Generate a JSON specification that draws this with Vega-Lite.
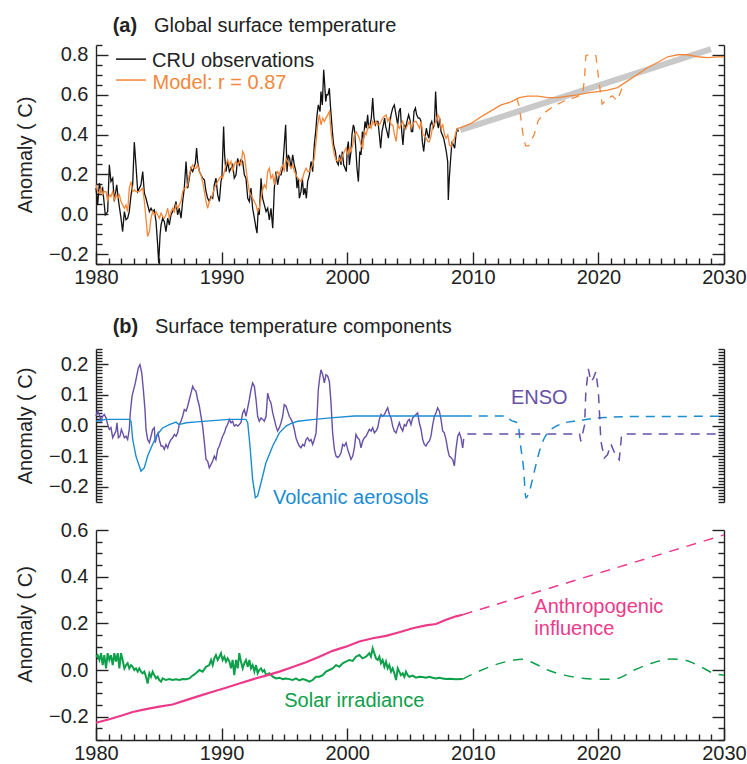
{
  "$schema": "https://vega.github.io/schema/vega-lite/v6.json",
  "autosize": {"type": "pad"},
  "padding": {"left": 15, "top": 16, "right": 2, "bottom": 2},
  "background": "white",
  "config": {
    "font": "Liberation Sans",
    "view": {"stroke": null},
    "axis": {"labelFontSize": 20, "labelColor": "#222", "titleFontSize": 20, "titleFontWeight": "normal", "titleColor": "#222", "domainColor": "#222", "tickColor": "#222", "domainWidth": 1.4, "tickWidth": 1.4, "grid": false}
  },
  "datasets": {
    "cru": [
      {"year":1980.00,"value":0.131},{"year":1980.13,"value":0.047},{"year":1980.27,"value":0.156},{"year":1980.40,"value":0.114},{"year":1980.53,"value":0.131},{"year":1980.74,"value":-0.003},{"year":1980.93,"value":0.013},{"year":1981.06,"value":0.248},{"year":1981.19,"value":0.164},{"year":1981.33,"value":0.181},{"year":1981.46,"value":0.064},{"year":1981.65,"value":0.148},{"year":1981.80,"value":0.064},{"year":1981.99,"value":-0.020},{"year":1982.12,"value":-0.087},{"year":1982.26,"value":0.013},{"year":1982.39,"value":-0.028},{"year":1982.52,"value":-0.020},{"year":1982.65,"value":0.013},{"year":1982.79,"value":0.097},{"year":1982.92,"value":0.148},{"year":1983.05,"value":0.362},{"year":1983.18,"value":0.248},{"year":1983.32,"value":0.114},{"year":1983.45,"value":0.131},{"year":1983.58,"value":0.148},{"year":1983.72,"value":0.214},{"year":1983.85,"value":0.106},{"year":1983.98,"value":0.080},{"year":1984.11,"value":0.047},{"year":1984.25,"value":0.013},{"year":1984.38,"value":0.030},{"year":1984.51,"value":0.013},{"year":1984.64,"value":0.022},{"year":1984.78,"value":-0.037},{"year":1984.91,"value":-0.154},{"year":1984.99,"value":-0.246},{"year":1985.10,"value":-0.104},{"year":1985.18,"value":-0.054},{"year":1985.31,"value":-0.020},{"year":1985.44,"value":-0.037},{"year":1985.57,"value":-0.087},{"year":1985.71,"value":-0.020},{"year":1985.84,"value":-0.054},{"year":1985.97,"value":-0.003},{"year":1986.10,"value":0.013},{"year":1986.24,"value":0.030},{"year":1986.37,"value":0.064},{"year":1986.50,"value":-0.003},{"year":1986.63,"value":0.030},{"year":1986.77,"value":-0.020},{"year":1986.90,"value":0.064},{"year":1987.03,"value":0.131},{"year":1987.17,"value":0.265},{"year":1987.30,"value":0.131},{"year":1987.43,"value":0.181},{"year":1987.56,"value":0.231},{"year":1987.70,"value":0.214},{"year":1987.91,"value":0.256},{"year":1988.01,"value":0.332},{"year":1988.09,"value":0.265},{"year":1988.23,"value":0.214},{"year":1988.36,"value":0.198},{"year":1988.49,"value":0.181},{"year":1988.63,"value":0.173},{"year":1988.76,"value":0.114},{"year":1988.89,"value":0.080},{"year":1989.02,"value":0.064},{"year":1989.16,"value":0.089},{"year":1989.29,"value":0.080},{"year":1989.42,"value":0.148},{"year":1989.55,"value":0.181},{"year":1989.69,"value":0.097},{"year":1989.82,"value":0.064},{"year":1989.95,"value":0.164},{"year":1990.03,"value":0.189},{"year":1990.16,"value":0.441},{"year":1990.24,"value":0.298},{"year":1990.35,"value":0.214},{"year":1990.48,"value":0.265},{"year":1990.62,"value":0.214},{"year":1990.75,"value":0.231},{"year":1990.88,"value":0.248},{"year":1991.01,"value":0.181},{"year":1991.15,"value":0.198},{"year":1991.28,"value":0.281},{"year":1991.41,"value":0.248},{"year":1991.54,"value":0.273},{"year":1991.68,"value":0.265},{"year":1991.81,"value":0.198},{"year":1991.94,"value":0.181},{"year":1992.08,"value":0.080},{"year":1992.21,"value":0.064},{"year":1992.34,"value":0.131},{"year":1992.47,"value":0.030},{"year":1992.61,"value":-0.020},{"year":1992.74,"value":-0.070},{"year":1992.82,"value":-0.095},{"year":1992.92,"value":0.030},{"year":1993.00,"value":-0.003},{"year":1993.14,"value":0.181},{"year":1993.27,"value":0.080},{"year":1993.40,"value":0.047},{"year":1993.54,"value":0.013},{"year":1993.67,"value":0.030},{"year":1993.80,"value":-0.028},{"year":1993.93,"value":0.030},{"year":1994.07,"value":-0.070},{"year":1994.20,"value":0.131},{"year":1994.33,"value":0.214},{"year":1994.46,"value":0.148},{"year":1994.60,"value":0.198},{"year":1994.73,"value":0.198},{"year":1994.86,"value":0.231},{"year":1994.99,"value":0.348},{"year":1995.10,"value":0.449},
      {"year":1995.21,"value":0.214},{"year":1995.31,"value":0.298},{"year":1995.42,"value":0.281},{"year":1995.53,"value":0.231},{"year":1995.66,"value":0.298},{"year":1995.79,"value":0.248},{"year":1995.92,"value":0.214},{"year":1996.00,"value":0.131},{"year":1996.11,"value":0.181},{"year":1996.19,"value":0.080},{"year":1996.32,"value":0.114},{"year":1996.43,"value":0.181},{"year":1996.53,"value":0.097},{"year":1996.64,"value":0.131},{"year":1996.75,"value":0.080},{"year":1996.85,"value":0.164},{"year":1996.99,"value":0.198},{"year":1997.12,"value":0.265},{"year":1997.25,"value":0.214},{"year":1997.38,"value":0.348},{"year":1997.49,"value":0.415},{"year":1997.60,"value":0.499},{"year":1997.70,"value":0.549},{"year":1997.84,"value":0.516},{"year":1997.91,"value":0.616},{"year":1998.02,"value":0.549},{"year":1998.13,"value":0.725},{"year":1998.21,"value":0.650},{"year":1998.29,"value":0.566},{"year":1998.37,"value":0.600},{"year":1998.47,"value":0.600},{"year":1998.58,"value":0.633},{"year":1998.66,"value":0.549},{"year":1998.74,"value":0.483},{"year":1998.82,"value":0.415},{"year":1998.92,"value":0.348},{"year":1999.06,"value":0.315},{"year":1999.16,"value":0.265},{"year":1999.29,"value":0.248},{"year":1999.40,"value":0.298},{"year":1999.51,"value":0.248},{"year":1999.61,"value":0.315},{"year":1999.72,"value":0.248},{"year":1999.83,"value":0.231},{"year":1999.93,"value":0.214},{"year":2000.01,"value":0.332},{"year":2000.09,"value":0.365},{"year":2000.17,"value":0.248},{"year":2000.30,"value":0.315},{"year":2000.38,"value":0.399},{"year":2000.49,"value":0.449},{"year":2000.57,"value":0.432},{"year":2000.70,"value":0.315},{"year":2000.78,"value":0.231},{"year":2000.89,"value":0.164},{"year":2001.00,"value":0.315},{"year":2001.10,"value":0.298},{"year":2001.21,"value":0.415},{"year":2001.31,"value":0.382},{"year":2001.42,"value":0.466},{"year":2001.52,"value":0.432},{"year":2001.63,"value":0.499},{"year":2001.71,"value":0.432},{"year":2001.82,"value":0.449},{"year":2001.92,"value":0.483},{"year":2002.03,"value":0.583},{"year":2002.13,"value":0.483},{"year":2002.24,"value":0.449},{"year":2002.35,"value":0.466},{"year":2002.45,"value":0.466},{"year":2002.56,"value":0.399},{"year":2002.66,"value":0.332},{"year":2002.77,"value":0.415},{"year":2002.88,"value":0.449},{"year":2002.98,"value":0.483},{"year":2003.06,"value":0.441},{"year":2003.17,"value":0.415},{"year":2003.28,"value":0.382},{"year":2003.38,"value":0.449},{"year":2003.49,"value":0.499},{"year":2003.62,"value":0.533},{"year":2003.75,"value":0.549},{"year":2003.89,"value":0.499},{"year":2004.02,"value":0.449},{"year":2004.13,"value":0.516},{"year":2004.23,"value":0.533},{"year":2004.34,"value":0.415},{"year":2004.44,"value":0.348},{"year":2004.55,"value":0.449},{"year":2004.66,"value":0.432},{"year":2004.76,"value":0.466},{"year":2004.89,"value":0.499},{"year":2005.00,"value":0.474},{"year":2005.11,"value":0.415},{"year":2005.21,"value":0.415},{"year":2005.32,"value":0.516},{"year":2005.43,"value":0.533},{"year":2005.53,"value":0.499},{"year":2005.66,"value":0.483},{"year":2005.77,"value":0.483},{"year":2005.88,"value":0.466},{"year":2005.98,"value":0.365},{"year":2006.09,"value":0.315},{"year":2006.20,"value":0.382},{"year":2006.30,"value":0.432},{"year":2006.41,"value":0.399},{"year":2006.51,"value":0.382},{"year":2006.62,"value":0.449},{"year":2006.73,"value":0.466},{"year":2006.83,"value":0.432},{"year":2006.94,"value":0.449},{"year":2007.04,"value":0.616},{"year":2007.15,"value":0.466},{"year":2007.26,"value":0.432},{"year":2007.36,"value":0.483},{"year":2007.47,"value":0.415},{"year":2007.57,"value":0.399},{"year":2007.68,"value":0.382},{"year":2007.79,"value":0.348},{"year":2007.89,"value":0.315},{"year":2008.00,"value":0.265},{"year":2008.05,"value":0.072},{"year":2008.13,"value":0.181},{"year":2008.24,"value":0.281},{"year":2008.34,"value":0.365},{"year":2008.45,"value":0.348},{"year":2008.56,"value":0.332},{"year":2008.66,"value":0.399},{"year":2008.77,"value":0.432},{"year":2008.85,"value":0.415}
    ],
    "model": [
      {"year":1980.00,"value":0.148},{"year":1980.13,"value":0.114},{"year":1980.27,"value":0.106},{"year":1980.40,"value":0.131},{"year":1980.53,"value":0.097},{"year":1980.66,"value":0.114},{"year":1980.80,"value":0.114},{"year":1980.93,"value":0.064},{"year":1981.06,"value":0.097},{"year":1981.19,"value":0.089},{"year":1981.33,"value":0.114},{"year":1981.46,"value":0.072},{"year":1981.59,"value":0.097},{"year":1981.73,"value":0.080},{"year":1981.86,"value":0.097},{"year":1981.99,"value":0.064},{"year":1982.12,"value":0.047},{"year":1982.26,"value":0.030},{"year":1982.39,"value":0.047},{"year":1982.52,"value":0.013},{"year":1982.65,"value":0.131},{"year":1982.79,"value":0.164},{"year":1982.92,"value":0.114},{"year":1983.05,"value":0.122},{"year":1983.18,"value":0.114},{"year":1983.32,"value":0.114},{"year":1983.45,"value":0.114},{"year":1983.58,"value":0.122},{"year":1983.72,"value":0.131},{"year":1983.85,"value":0.064},{"year":1983.98,"value":-0.020},{"year":1984.11,"value":-0.112},{"year":1984.25,"value":-0.087},{"year":1984.38,"value":-0.020},{"year":1984.51,"value":0.013},{"year":1984.64,"value":-0.003},{"year":1984.78,"value":0.013},{"year":1984.91,"value":-0.003},{"year":1985.04,"value":-0.020},{"year":1985.18,"value":0.005},{"year":1985.31,"value":-0.012},{"year":1985.44,"value":-0.020},{"year":1985.57,"value":-0.003},{"year":1985.71,"value":0.030},{"year":1985.84,"value":-0.020},{"year":1985.97,"value":0.013},{"year":1986.10,"value":0.030},{"year":1986.24,"value":0.013},{"year":1986.37,"value":0.047},{"year":1986.50,"value":0.030},{"year":1986.63,"value":0.047},{"year":1986.77,"value":0.064},{"year":1986.90,"value":0.114},{"year":1987.03,"value":0.131},{"year":1987.17,"value":0.131},{"year":1987.30,"value":0.148},{"year":1987.43,"value":0.198},{"year":1987.56,"value":0.231},{"year":1987.70,"value":0.248},{"year":1987.83,"value":0.231},{"year":1987.96,"value":0.231},{"year":1988.09,"value":0.248},{"year":1988.23,"value":0.214},{"year":1988.36,"value":0.198},{"year":1988.49,"value":0.164},{"year":1988.63,"value":0.114},{"year":1988.76,"value":0.064},{"year":1988.89,"value":0.030},{"year":1989.02,"value":0.064},{"year":1989.16,"value":0.080},{"year":1989.29,"value":0.097},{"year":1989.42,"value":0.131},{"year":1989.55,"value":0.148},{"year":1989.69,"value":0.164},{"year":1989.82,"value":0.181},{"year":1989.95,"value":0.189},{"year":1990.08,"value":0.181},{"year":1990.22,"value":0.214},{"year":1990.35,"value":0.248},{"year":1990.48,"value":0.273},{"year":1990.62,"value":0.248},{"year":1990.75,"value":0.265},{"year":1990.88,"value":0.214},{"year":1991.01,"value":0.248},{"year":1991.15,"value":0.265},{"year":1991.28,"value":0.248},{"year":1991.41,"value":0.265},{"year":1991.54,"value":0.248},{"year":1991.68,"value":0.315},{"year":1991.81,"value":0.298},{"year":1991.94,"value":0.231},{"year":1992.08,"value":0.164},{"year":1992.21,"value":0.114},{"year":1992.34,"value":0.097},{"year":1992.47,"value":0.080},{"year":1992.61,"value":0.064},{"year":1992.74,"value":0.047},{"year":1992.87,"value":0.013},{"year":1993.00,"value":0.030},{"year":1993.14,"value":0.080},{"year":1993.27,"value":0.122},{"year":1993.40,"value":0.148},{"year":1993.54,"value":0.131},{"year":1993.67,"value":0.214},{"year":1993.80,"value":0.231},{"year":1993.93,"value":0.181},{"year":1994.07,"value":0.198},{"year":1994.20,"value":0.148},{"year":1994.33,"value":0.198},{"year":1994.46,"value":0.214},{"year":1994.60,"value":0.198},
      {"year":1994.73,"value":0.231},{"year":1994.86,"value":0.248},{"year":1994.99,"value":0.214},{"year":1995.13,"value":0.281},{"year":1995.26,"value":0.265},{"year":1995.39,"value":0.248},{"year":1995.53,"value":0.231},{"year":1995.66,"value":0.248},{"year":1995.79,"value":0.214},{"year":1995.92,"value":0.198},{"year":1996.06,"value":0.181},{"year":1996.19,"value":0.173},{"year":1996.32,"value":0.164},{"year":1996.46,"value":0.181},{"year":1996.59,"value":0.214},{"year":1996.72,"value":0.231},{"year":1996.86,"value":0.214},{"year":1996.99,"value":0.214},{"year":1997.12,"value":0.231},{"year":1997.25,"value":0.248},{"year":1997.38,"value":0.281},{"year":1997.52,"value":0.365},{"year":1997.65,"value":0.449},{"year":1997.78,"value":0.499},{"year":1997.92,"value":0.449},{"year":1998.05,"value":0.483},{"year":1998.18,"value":0.466},{"year":1998.31,"value":0.483},{"year":1998.45,"value":0.499},{"year":1998.58,"value":0.516},{"year":1998.71,"value":0.415},{"year":1998.84,"value":0.348},{"year":1998.98,"value":0.298},{"year":1999.11,"value":0.273},{"year":1999.24,"value":0.265},{"year":1999.37,"value":0.281},{"year":1999.51,"value":0.265},{"year":1999.64,"value":0.298},{"year":1999.78,"value":0.315},{"year":1999.91,"value":0.332},{"year":2000.04,"value":0.298},{"year":2000.17,"value":0.332},{"year":2000.30,"value":0.315},{"year":2000.44,"value":0.348},{"year":2000.57,"value":0.399},{"year":2000.70,"value":0.415},{"year":2000.84,"value":0.399},{"year":2000.97,"value":0.382},{"year":2001.10,"value":0.348},{"year":2001.24,"value":0.332},{"year":2001.37,"value":0.415},{"year":2001.50,"value":0.399},{"year":2001.64,"value":0.432},{"year":2001.77,"value":0.449},{"year":2001.90,"value":0.432},{"year":2002.03,"value":0.466},{"year":2002.17,"value":0.449},{"year":2002.30,"value":0.466},{"year":2002.43,"value":0.449},{"year":2002.57,"value":0.449},{"year":2002.70,"value":0.466},{"year":2002.83,"value":0.483},{"year":2002.96,"value":0.491},{"year":2003.10,"value":0.499},{"year":2003.23,"value":0.466},{"year":2003.36,"value":0.483},{"year":2003.50,"value":0.449},{"year":2003.63,"value":0.449},{"year":2003.76,"value":0.399},{"year":2003.90,"value":0.365},{"year":2004.02,"value":0.449},{"year":2004.16,"value":0.432},{"year":2004.29,"value":0.449},{"year":2004.42,"value":0.466},{"year":2004.56,"value":0.432},{"year":2004.69,"value":0.432},{"year":2004.82,"value":0.449},{"year":2004.95,"value":0.466},{"year":2005.09,"value":0.432},{"year":2005.22,"value":0.449},{"year":2005.35,"value":0.466},{"year":2005.49,"value":0.466},{"year":2005.62,"value":0.449},{"year":2005.75,"value":0.432},{"year":2005.89,"value":0.466},{"year":2006.02,"value":0.399},{"year":2006.15,"value":0.399},{"year":2006.29,"value":0.382},{"year":2006.42,"value":0.365},{"year":2006.55,"value":0.365},{"year":2006.69,"value":0.399},{"year":2006.82,"value":0.449},{"year":2006.95,"value":0.449},{"year":2007.08,"value":0.474},{"year":2007.21,"value":0.499},{"year":2007.35,"value":0.483},{"year":2007.48,"value":0.432},{"year":2007.61,"value":0.449},{"year":2007.75,"value":0.399},{"year":2007.88,"value":0.382},{"year":2008.01,"value":0.399},{"year":2008.14,"value":0.348},{"year":2008.27,"value":0.340},{"year":2008.41,"value":0.365},{"year":2008.54,"value":0.382},{"year":2008.67,"value":0.415},{"year":2008.81,"value":0.432},{"year":2008.94,"value":0.432}
    ],
    "modelFut": [
      {"year":2008.94,"value":0.432},{"year":2009.86,"value":0.456},{"year":2010.65,"value":0.489},{"year":2011.45,"value":0.519},{"year":2012.25,"value":0.549},{"year":2013.04,"value":0.564},{"year":2013.70,"value":0.586},{"year":2014.37,"value":0.593},{"year":2015.16,"value":0.593},{"year":2015.96,"value":0.586},{"year":2016.76,"value":0.586},{"year":2017.55,"value":0.593},{"year":2018.35,"value":0.600},{"year":2019.14,"value":0.610},{"year":2019.94,"value":0.616},{"year":2020.74,"value":0.623},{"year":2021.53,"value":0.636},{"year":2022.33,"value":0.670},{"year":2023.13,"value":0.703},{"year":2023.92,"value":0.737},{"year":2024.72,"value":0.762},{"year":2025.51,"value":0.791},{"year":2026.31,"value":0.801},{"year":2027.10,"value":0.801},{"year":2027.90,"value":0.791},{"year":2028.70,"value":0.787},{"year":2029.76,"value":0.792},{"year":2030.00,"value":0.791}
    ],
    "modelFutDash": [
      {"year":2013.50,"value":0.583},{"year":2013.70,"value":0.540},{"year":2014.00,"value":0.400},{"year":2014.20,"value":0.343},{"year":2014.45,"value":0.343},{"year":2014.90,"value":0.402},{"year":2015.20,"value":0.469},{"year":2015.70,"value":0.510},{"year":2016.50,"value":0.545},{"year":2017.30,"value":0.570},{"year":2018.10,"value":0.586},{"year":2018.75,"value":0.603},{"year":2018.90,"value":0.687},{"year":2019.00,"value":0.796},{"year":2019.40,"value":0.804},{"year":2019.80,"value":0.796},{"year":2020.07,"value":0.653},{"year":2020.30,"value":0.553},{"year":2020.70,"value":0.578},{"year":2021.10,"value":0.595},{"year":2021.50,"value":0.570},{"year":2021.80,"value":0.620},{"year":2022.00,"value":0.645}
    ],
    "trend": [
      {"year":2009.0,"value":0.422},{"year":2028.96,"value":0.829}
    ],
    "enso": [
      {"year":1980.00,"value":0.030},{"year":1980.13,"value":0.047},{"year":1980.27,"value":0.036},{"year":1980.40,"value":0.014},{"year":1980.53,"value":0.030},{"year":1980.66,"value":0.036},{"year":1980.80,"value":0.025},{"year":1980.93,"value":0.003},{"year":1981.06,"value":-0.013},{"year":1981.19,"value":-0.007},{"year":1981.33,"value":-0.040},{"year":1981.46,"value":-0.029},{"year":1981.59,"value":-0.018},{"year":1981.67,"value":0.009},{"year":1981.78,"value":-0.040},{"year":1981.91,"value":-0.035},{"year":1982.02,"value":-0.013},{"year":1982.12,"value":-0.024},{"year":1982.26,"value":-0.040},{"year":1982.39,"value":-0.035},{"year":1982.52,"value":-0.046},{"year":1982.65,"value":-0.013},{"year":1982.73,"value":0.041},{"year":1982.87,"value":0.096},{"year":1983.00,"value":0.117},{"year":1983.13,"value":0.139},{"year":1983.24,"value":0.161},{"year":1983.37,"value":0.188},{"year":1983.50,"value":0.199},{"year":1983.64,"value":0.172},{"year":1983.77,"value":0.117},{"year":1983.90,"value":0.052},{"year":1983.98,"value":-0.013},{"year":1984.11,"value":-0.046},{"year":1984.25,"value":-0.056},{"year":1984.38,"value":-0.035},{"year":1984.51,"value":-0.013},{"year":1984.64,"value":-0.007},{"year":1984.72,"value":-0.056},{"year":1984.83,"value":-0.035},{"year":1984.94,"value":-0.024},{"year":1985.04,"value":-0.046},{"year":1985.18,"value":-0.067},{"year":1985.31,"value":-0.067},{"year":1985.44,"value":-0.078},{"year":1985.57,"value":-0.062},{"year":1985.71,"value":-0.073},{"year":1985.84,"value":-0.056},{"year":1985.97,"value":-0.046},{"year":1986.10,"value":-0.040},{"year":1986.24,"value":-0.029},{"year":1986.37,"value":-0.035},{"year":1986.50,"value":-0.024},{"year":1986.63,"value":0.003},{"year":1986.77,"value":0.014},{"year":1986.90,"value":0.030},{"year":1987.03,"value":0.052},{"year":1987.17,"value":0.047},{"year":1987.30,"value":0.063},{"year":1987.43,"value":0.085},{"year":1987.56,"value":0.106},{"year":1987.70,"value":0.128},{"year":1987.83,"value":0.117},{"year":1987.96,"value":0.112},{"year":1988.09,"value":0.085},{"year":1988.23,"value":0.063},{"year":1988.36,"value":0.030},{"year":1988.49,"value":-0.002},{"year":1988.63,"value":-0.056},{"year":1988.76,"value":-0.111},{"year":1988.89,"value":-0.116},{"year":1989.02,"value":-0.138},{"year":1989.16,"value":-0.127},{"year":1989.29,"value":-0.116},{"year":1989.42,"value":-0.100},{"year":1989.55,"value":-0.111},{"year":1989.69,"value":-0.078},{"year":1989.82,"value":-0.067},{"year":1989.95,"value":-0.051},{"year":1990.08,"value":-0.035},{"year":1990.22,"value":-0.024},{"year":1990.35,"value":-0.007},{"year":1990.48,"value":0.003},{"year":1990.62,"value":0.020},{"year":1990.75,"value":0.009},{"year":1990.88,"value":0.014},{"year":1991.01,"value":-0.002},{"year":1991.15,"value":0.003},{"year":1991.28,"value":-0.002},{"year":1991.41,"value":0.003},{"year":1991.54,"value":0.009},{"year":1991.68,"value":0.041},{"year":1991.81,"value":0.052},{"year":1991.94,"value":0.030},{"year":1992.08,"value":0.058},{"year":1992.21,"value":0.085},{"year":1992.34,"value":0.117},{"year":1992.47,"value":0.139},{"year":1992.61,"value":0.128},{"year":1992.74,"value":0.085},{"year":1992.87,"value":0.030},{"year":1993.00,"value":0.014},{"year":1993.14,"value":0.025},{"year":1993.27,"value":0.020},{"year":1993.40,"value":0.014},{"year":1993.54,"value":0.030},{"year":1993.67,"value":0.106},{"year":1993.80,"value":0.085},{"year":1993.93,"value":0.074},{"year":1994.07,"value":0.041},{"year":1994.20,"value":0.020},{"year":1994.33,"value":-0.002},{"year":1994.46,"value":-0.018},{"year":1994.60,"value":-0.007},{"year":1994.73,"value":0.009},{"year":1994.86,"value":0.030},{"year":1994.99,"value":0.068},{"year":1995.13,"value":0.063},
      {"year":1995.26,"value":0.047},{"year":1995.39,"value":0.030},{"year":1995.53,"value":0.020},{"year":1995.66,"value":0.009},{"year":1995.79,"value":-0.013},{"year":1995.92,"value":-0.040},{"year":1996.06,"value":-0.056},{"year":1996.19,"value":-0.067},{"year":1996.32,"value":-0.073},{"year":1996.46,"value":-0.062},{"year":1996.59,"value":-0.067},{"year":1996.72,"value":-0.046},{"year":1996.85,"value":-0.040},{"year":1996.99,"value":-0.051},{"year":1997.12,"value":-0.046},{"year":1997.25,"value":-0.062},{"year":1997.38,"value":-0.046},{"year":1997.52,"value":-0.024},{"year":1997.60,"value":0.030},{"year":1997.70,"value":0.117},{"year":1997.81,"value":0.155},{"year":1997.91,"value":0.182},{"year":1998.05,"value":0.166},{"year":1998.18,"value":0.139},{"year":1998.31,"value":0.166},{"year":1998.45,"value":0.161},{"year":1998.58,"value":0.144},{"year":1998.71,"value":0.074},{"year":1998.84,"value":-0.024},{"year":1998.98,"value":-0.078},{"year":1999.11,"value":-0.100},{"year":1999.24,"value":-0.105},{"year":1999.37,"value":-0.100},{"year":1999.51,"value":-0.089},{"year":1999.64,"value":-0.062},{"year":1999.77,"value":-0.067},{"year":1999.91,"value":-0.056},{"year":2000.04,"value":-0.078},{"year":2000.17,"value":-0.094},{"year":2000.30,"value":-0.111},{"year":2000.44,"value":-0.100},{"year":2000.57,"value":-0.073},{"year":2000.70,"value":-0.029},{"year":2000.83,"value":-0.040},{"year":2000.97,"value":-0.046},{"year":2001.10,"value":-0.073},{"year":2001.23,"value":-0.051},{"year":2001.37,"value":-0.040},{"year":2001.50,"value":-0.035},{"year":2001.63,"value":-0.024},{"year":2001.76,"value":-0.013},{"year":2001.90,"value":-0.018},{"year":2002.03,"value":-0.007},{"year":2002.16,"value":-0.024},{"year":2002.29,"value":-0.018},{"year":2002.43,"value":-0.007},{"year":2002.56,"value":0.020},{"year":2002.69,"value":0.036},{"year":2002.82,"value":0.030},{"year":2002.96,"value":0.036},{"year":2003.09,"value":0.047},{"year":2003.22,"value":0.058},{"year":2003.36,"value":0.036},{"year":2003.49,"value":0.025},{"year":2003.62,"value":-0.002},{"year":2003.75,"value":-0.018},{"year":2003.89,"value":-0.024},{"year":2004.02,"value":-0.007},{"year":2004.15,"value":0.009},{"year":2004.28,"value":-0.007},{"year":2004.42,"value":-0.018},{"year":2004.55,"value":0.003},{"year":2004.68,"value":-0.002},{"year":2004.81,"value":0.014},{"year":2004.95,"value":0.020},{"year":2005.08,"value":0.003},{"year":2005.21,"value":0.025},{"year":2005.35,"value":0.030},{"year":2005.48,"value":0.036},{"year":2005.61,"value":0.041},{"year":2005.74,"value":0.009},{"year":2005.88,"value":-0.013},{"year":2006.01,"value":-0.046},{"year":2006.14,"value":-0.062},{"year":2006.27,"value":-0.067},{"year":2006.41,"value":-0.056},{"year":2006.54,"value":-0.051},{"year":2006.67,"value":-0.035},{"year":2006.81,"value":0.003},{"year":2006.94,"value":0.030},{"year":2007.07,"value":0.041},{"year":2007.20,"value":0.058},{"year":2007.34,"value":0.047},{"year":2007.47,"value":0.020},{"year":2007.60,"value":-0.018},{"year":2007.73,"value":-0.024},{"year":2007.87,"value":-0.046},{"year":2008.00,"value":-0.078},{"year":2008.13,"value":-0.100},{"year":2008.27,"value":-0.105},{"year":2008.40,"value":-0.111},{"year":2008.53,"value":-0.132},{"year":2008.66,"value":-0.078},{"year":2008.80,"value":-0.035},{"year":2008.93,"value":-0.024},{"year":2009.06,"value":-0.040},{"year":2009.19,"value":-0.073}
    ],
    "ensoFut": [
      {"year":2009.19,"value":-0.073},{"year":2009.30,"value":-0.035},{"year":2009.45,"value":-0.028},{"year":2018.50,"value":-0.028},{"year":2018.60,"value":-0.052},{"year":2018.90,"value":0.002},{"year":2019.00,"value":0.110},{"year":2019.20,"value":0.185},{"year":2019.40,"value":0.143},{"year":2019.60,"value":0.154},{"year":2019.80,"value":0.176},{"year":2020.00,"value":0.110},{"year":2020.20,"value":-0.052},{"year":2020.47,"value":-0.106},{"year":2020.73,"value":-0.095},{"year":2021.00,"value":-0.061},{"year":2021.40,"value":-0.100},{"year":2021.66,"value":-0.112},{"year":2021.85,"value":-0.030},{"year":2022.00,"value":-0.028},{"year":2030.00,"value":-0.028}
    ],
    "volc": [
      {"year":1980.00,"value":0.014},{"year":1980.80,"value":0.020},{"year":1982.65,"value":0.020},{"year":1982.79,"value":0.014},{"year":1982.92,"value":-0.045},{"year":1983.18,"value":-0.100},{"year":1983.45,"value":-0.133},{"year":1983.58,"value":-0.149},{"year":1983.85,"value":-0.138},{"year":1984.11,"value":-0.100},{"year":1984.50,"value":-0.062},{"year":1984.90,"value":-0.029},{"year":1985.30,"value":-0.008},{"year":1985.84,"value":0.003},{"year":1986.37,"value":0.011},{"year":1986.60,"value":0.003},{"year":1987.20,"value":0.009},{"year":1988.00,"value":0.012},{"year":1989.30,"value":0.016},{"year":1990.60,"value":0.020},{"year":1991.94,"value":0.020},{"year":1992.08,"value":0.009},{"year":1992.26,"value":-0.067},{"year":1992.47,"value":-0.176},{"year":1992.69,"value":-0.236},{"year":1992.87,"value":-0.230},{"year":1993.14,"value":-0.187},{"year":1993.53,"value":-0.122},{"year":1994.07,"value":-0.067},{"year":1994.60,"value":-0.024},{"year":1995.13,"value":-0.002},{"year":1995.50,"value":0.006},{"year":1996.06,"value":0.014},{"year":1997.40,"value":0.020},{"year":1998.70,"value":0.025},{"year":2000.57,"value":0.031},{"year":2009.20,"value":0.031}
    ],
    "volcFut": [
      {"year":2009.20,"value":0.031},{"year":2012.77,"value":0.031},{"year":2013.00,"value":0.018},{"year":2013.57,"value":0.008},{"year":2013.83,"value":-0.074},{"year":2014.04,"value":-0.139},{"year":2014.23,"value":-0.237},{"year":2014.50,"value":-0.215},{"year":2014.90,"value":-0.150},{"year":2015.30,"value":-0.085},{"year":2015.70,"value":-0.041},{"year":2016.20,"value":-0.014},{"year":2016.75,"value":0.000},{"year":2017.55,"value":0.011},{"year":2018.30,"value":0.015},{"year":2019.40,"value":0.022},{"year":2020.50,"value":0.026},{"year":2022.06,"value":0.029},{"year":2030.00,"value":0.030}
    ],
    "anthro": [
      {"year":1980.00,"value":-0.226},{"year":1981.06,"value":-0.211},{"year":1982.12,"value":-0.194},{"year":1982.92,"value":-0.180},{"year":1983.98,"value":-0.168},{"year":1985.04,"value":-0.157},{"year":1986.10,"value":-0.148},{"year":1987.17,"value":-0.129},{"year":1988.23,"value":-0.111},{"year":1989.29,"value":-0.093},{"year":1990.35,"value":-0.076},{"year":1991.41,"value":-0.058},{"year":1992.47,"value":-0.040},{"year":1993.53,"value":-0.024},{"year":1994.60,"value":-0.007},{"year":1995.66,"value":0.013},{"year":1996.72,"value":0.033},{"year":1997.78,"value":0.057},{"year":1998.84,"value":0.082},{"year":1999.90,"value":0.100},{"year":2000.97,"value":0.122},{"year":2002.03,"value":0.136},{"year":2003.09,"value":0.146},{"year":2004.15,"value":0.162},{"year":2005.21,"value":0.179},{"year":2006.27,"value":0.191},{"year":2007.07,"value":0.197},{"year":2007.87,"value":0.215},{"year":2008.66,"value":0.230},{"year":2009.19,"value":0.237}
    ],
    "anthroFut": [
      {"year":2009.19,"value":0.237},{"year":2030.00,"value":0.579}
    ],
    "solar": [
      {"year":1980.00,"value":0.057},{"year":1980.13,"value":0.064},{"year":1980.27,"value":0.043},{"year":1980.40,"value":0.072},{"year":1980.53,"value":0.021},{"year":1980.66,"value":0.064},{"year":1980.80,"value":0.007},{"year":1980.93,"value":0.072},{"year":1981.06,"value":0.043},{"year":1981.19,"value":0.064},{"year":1981.33,"value":0.021},{"year":1981.46,"value":0.072},{"year":1981.59,"value":0.036},{"year":1981.73,"value":0.072},{"year":1981.86,"value":0.007},{"year":1981.99,"value":0.072},{"year":1982.12,"value":0.043},{"year":1982.26,"value":0.007},{"year":1982.39,"value":0.021},{"year":1982.52,"value":0.029},{"year":1982.65,"value":0.007},{"year":1982.79,"value":0.021},{"year":1982.92,"value":0.014},{"year":1983.05,"value":0.000},{"year":1983.18,"value":0.007},{"year":1983.32,"value":-0.007},{"year":1983.45,"value":0.007},{"year":1983.58,"value":-0.007},{"year":1983.72,"value":-0.014},{"year":1983.85,"value":-0.007},{"year":1983.98,"value":-0.029},{"year":1984.11,"value":-0.058},{"year":1984.25,"value":-0.014},{"year":1984.38,"value":-0.029},{"year":1984.51,"value":-0.007},{"year":1984.64,"value":-0.022},{"year":1984.78,"value":-0.036},{"year":1984.91,"value":-0.029},{"year":1985.04,"value":-0.043},{"year":1985.18,"value":-0.050},{"year":1985.31,"value":-0.036},{"year":1985.57,"value":-0.043},{"year":1985.84,"value":-0.039},{"year":1986.10,"value":-0.043},{"year":1986.37,"value":-0.040},{"year":1986.63,"value":-0.043},{"year":1986.90,"value":-0.039},{"year":1987.17,"value":-0.040},{"year":1987.43,"value":-0.036},{"year":1987.70,"value":-0.024},{"year":1987.96,"value":-0.014},{"year":1988.23,"value":0.000},{"year":1988.49,"value":-0.007},{"year":1988.76,"value":0.014},{"year":1989.02,"value":0.021},{"year":1989.16,"value":0.043},{"year":1989.29,"value":0.021},{"year":1989.42,"value":0.050},{"year":1989.55,"value":0.064},{"year":1989.69,"value":0.043},{"year":1989.82,"value":0.057},{"year":1989.95,"value":0.072},{"year":1990.08,"value":0.043},{"year":1990.22,"value":0.057},{"year":1990.35,"value":0.036},{"year":1990.48,"value":0.050},{"year":1990.62,"value":0.036},{"year":1990.75,"value":0.007},{"year":1990.88,"value":0.043},{"year":1991.01,"value":-0.022},{"year":1991.15,"value":0.043},{"year":1991.28,"value":0.007},{"year":1991.41,"value":0.072},{"year":1991.54,"value":0.036},{"year":1991.68,"value":0.007},{"year":1991.81,"value":0.029},{"year":1991.94,"value":0.043},{"year":1992.08,"value":0.014},{"year":1992.21,"value":0.043},{"year":1992.34,"value":0.007},{"year":1992.47,"value":0.021},{"year":1992.61,"value":-0.007},{"year":1992.74,"value":0.021},{"year":1992.87,"value":-0.014},{"year":1993.00,"value":0.000},{"year":1993.14,"value":0.007},{"year":1993.27,"value":-0.007},{"year":1993.40,"value":0.000},{"year":1993.54,"value":-0.022},{"year":1993.80,"value":-0.014},{"year":1994.07,"value":-0.029},{"year":1994.33,"value":-0.036},{"year":1994.60,"value":-0.033},{"year":1994.86,"value":-0.039},{"year":1995.13,"value":-0.036},{"year":1995.39,"value":-0.039},{"year":1995.66,"value":-0.043},{"year":1995.92,"value":-0.036},{"year":1996.19,"value":-0.045},{"year":1996.45,"value":-0.039},{"year":1996.72,"value":-0.043},{"year":1996.99,"value":-0.050},{"year":1997.25,"value":-0.043},{"year":1997.52,"value":-0.029},{"year":1997.78,"value":-0.029},{"year":1998.05,"value":-0.022},{"year":1998.31,"value":-0.007},{"year":1998.58,"value":0.000},{"year":1998.84,"value":0.007},{"year":1999.11,"value":0.021},{"year":1999.37,"value":0.014},{"year":1999.64,"value":0.029},{"year":1999.90,"value":0.036},{"year":2000.17,"value":0.043},{"year":2000.44,"value":0.039},{"year":2000.70,"value":0.057},{"year":2000.97,"value":0.064},{"year":2001.23,"value":0.050},{"year":2001.50,"value":0.057},{"year":2001.76,"value":0.072},{"year":2001.89,"value":0.057},{"year":2002.03,"value":0.093},{"year":2002.16,"value":0.072},{"year":2002.29,"value":0.050},{"year":2002.43,"value":0.043},{"year":2002.56,"value":0.057},{"year":2002.69,"value":0.029},{"year":2002.82,"value":0.043},{"year":2002.96,"value":0.014},{"year":2003.09,"value":0.036},{"year":2003.22,"value":0.007},{"year":2003.35,"value":0.021},{"year":2003.49,"value":-0.007},{"year":2003.62,"value":0.007},{"year":2003.75,"value":-0.014},{"year":2003.89,"value":-0.043},{"year":2004.02,"value":0.007},{"year":2004.15,"value":-0.007},{"year":2004.28,"value":-0.022},{"year":2004.42,"value":-0.014},{"year":2004.55,"value":-0.029},{"year":2004.68,"value":-0.007},{"year":2004.81,"value":-0.022},{"year":2004.95,"value":-0.029},{"year":2005.21,"value":-0.024},{"year":2005.48,"value":-0.033},{"year":2005.74,"value":-0.029},{"year":2006.01,"value":-0.030},{"year":2006.27,"value":-0.033},{"year":2006.54,"value":-0.029},{"year":2006.80,"value":-0.033},{"year":2007.07,"value":-0.036},{"year":2007.34,"value":-0.033},{"year":2007.60,"value":-0.036},{"year":2007.87,"value":-0.039},{"year":2008.13,"value":-0.038},{"year":2008.40,"value":-0.039},{"year":2008.66,"value":-0.040},{"year":2009.19,"value":-0.039}
    ],
    "solarFut": [
      {"year":2009.19,"value":-0.039},{"year":2010.38,"value":-0.008},{"year":2011.71,"value":0.021},{"year":2013.04,"value":0.040},{"year":2013.97,"value":0.046},{"year":2014.90,"value":0.028},{"year":2015.96,"value":0.000},{"year":2017.28,"value":-0.022},{"year":2018.88,"value":-0.036},{"year":2020.47,"value":-0.040},{"year":2021.53,"value":-0.036},{"year":2022.86,"value":0.000},{"year":2024.18,"value":0.028},{"year":2025.78,"value":0.047},{"year":2026.84,"value":0.043},{"year":2027.90,"value":0.021},{"year":2029.23,"value":-0.015},{"year":2030.00,"value":-0.022}
    ]
  },
  "bounds": "flush",
  "spacing": 85,
  "vconcat": [
    {
      "width": 628,
      "height": 219,
      "resolve": {"axis": {"y": "independent"}},
      "encoding": {
        "x": {"field": "year", "type": "quantitative", "scale": {"domain": [1980, 2030], "nice": false, "zero": false},
          "axis": {"orient": "bottom", "title": null, "tickCount": 50, "format": "d", "labelExpr": "abs(datum.value/10 - round(datum.value/10)) < 0.000001 ? datum.label : ''", "tickSize": {"condition": {"test": "abs(datum.value/10 - round(datum.value/10)) < 0.000001", "value": -12}, "value": -6}, "labelPadding": 15, "labelFlush": false, "labelOverlap": false}}
      },
      "layer": [
        {
          "data": {"name": "trend"},
          "mark": {"type": "line", "color": "#c9c9c9", "strokeWidth": 6, "strokeCap": "butt"},
          "encoding": {
            "y": {"field": "value", "type": "quantitative", "scale": {"domain": [-0.25, 0.85], "nice": false, "zero": false},
              "axis": {"orient": "left", "title": "Anomaly ( C)", "tickCount": 22, "format": ".1f", "labelExpr": "abs(datum.value*5 - round(datum.value*5)) < 0.000001 ? datum.label : ''", "tickSize": {"condition": {"test": "abs(datum.value*5 - round(datum.value*5)) < 0.000001", "value": -12}, "value": -6}, "labelPadding": 20, "labelOverlap": false, "labelFlush": false, "titlePadding": 13}}
          }
        },
        {
          "data": {"name": "modelFut"},
          "mark": {"type": "line", "color": "#f4873a", "strokeWidth": 1.3},
          "encoding": {
            "y": {"field": "value", "type": "quantitative", "scale": {"domain": [-0.25, 0.85], "nice": false, "zero": false},
              "axis": {"orient": "right", "title": null, "labels": false, "tickCount": 22, "tickSize": {"condition": {"test": "abs(datum.value*5 - round(datum.value*5)) < 0.000001", "value": -12}, "value": -6}}}
          }
        },
        {
          "data": {"name": "modelFutDash"},
          "mark": {"type": "line", "color": "#f4873a", "strokeWidth": 1.3, "strokeDash": [8, 7]},
          "encoding": {
            "y": {"field": "value", "type": "quantitative", "scale": {"domain": [-0.25, 0.85], "nice": false, "zero": false}, "axis": null}
          }
        },
        {
          "data": {"name": "cru"},
          "mark": {"type": "line", "color": "#111111", "strokeWidth": 1.3},
          "encoding": {
            "y": {"field": "value", "type": "quantitative", "scale": {"domain": [-0.25, 0.85], "nice": false, "zero": false}, "axis": null}
          }
        },
        {
          "data": {"name": "model"},
          "mark": {"type": "line", "color": "#f4873a", "strokeWidth": 1.3},
          "encoding": {
            "y": {"field": "value", "type": "quantitative", "scale": {"domain": [-0.25, 0.85], "nice": false, "zero": false}, "axis": null}
          }
        },
        {
          "data": {"values": [{"year": 1981.59, "value": 0.779}, {"year": 1983.98, "value": 0.779}]},
          "mark": {"type": "line", "color": "#111111", "strokeWidth": 1.5},
          "encoding": {
            "y": {"field": "value", "type": "quantitative", "scale": {"domain": [-0.25, 0.85], "nice": false, "zero": false}, "axis": null}
          }
        },
        {
          "data": {"values": [{"year": 1981.59, "value": 0.674}, {"year": 1983.98, "value": 0.674}]},
          "mark": {"type": "line", "color": "#f4873a", "strokeWidth": 1.5},
          "encoding": {
            "y": {"field": "value", "type": "quantitative", "scale": {"domain": [-0.25, 0.85], "nice": false, "zero": false}, "axis": null}
          }
        },
        {
          "data": {"values": [{"year": 1984.46, "value": 0.737, "text": "CRU observations"}, {"year": 1984.62, "value": 0.9136, "text": "Global surface temperature"}]},
          "mark": {"type": "text", "align": "left", "baseline": "alphabetic", "fontSize": 20, "color": "#222222"},
          "encoding": {
            "y": {"field": "value", "type": "quantitative", "scale": {"domain": [-0.25, 0.85], "nice": false, "zero": false}, "axis": null},
            "text": {"field": "text"}
          }
        },
        {
          "data": {"values": [{"year": 1984.5, "value": 0.628, "text": "Model: r = 0.87"}]},
          "mark": {"type": "text", "align": "left", "baseline": "alphabetic", "fontSize": 20, "color": "#f4873a"},
          "encoding": {
            "y": {"field": "value", "type": "quantitative", "scale": {"domain": [-0.25, 0.85], "nice": false, "zero": false}, "axis": null},
            "text": {"field": "text"}
          }
        },
        {
          "data": {"values": [{"year": 1981.33, "value": 0.9136, "text": "(a)"}]},
          "mark": {"type": "text", "align": "left", "baseline": "alphabetic", "fontSize": 20, "fontWeight": "bold", "color": "#222222"},
          "encoding": {
            "y": {"field": "value", "type": "quantitative", "scale": {"domain": [-0.25, 0.85], "nice": false, "zero": false}, "axis": null},
            "text": {"field": "text"}
          }
        }
      ]
    },
    {
      "bounds": "flush",
      "spacing": 28,
      "vconcat": [
        {
          "width": 628,
          "height": 153,
          "resolve": {"axis": {"y": "independent"}},
          "encoding": {
            "x": {"field": "year", "type": "quantitative", "scale": {"domain": [1980, 2030], "nice": false, "zero": false}, "axis": null}
          },
          "layer": [
            {
              "data": {"name": "enso"},
              "mark": {"type": "line", "color": "#6650a8", "strokeWidth": 1.4},
              "encoding": {
                "y": {"field": "value", "type": "quantitative", "scale": {"domain": [-0.25, 0.25], "nice": false, "zero": false},
                  "axis": {"orient": "left", "title": "Anomaly ( C)", "tickCount": 50, "format": ".1f", "labelExpr": "abs(datum.value*10 - round(datum.value*10)) < 0.000001 ? datum.label : ''", "tickSize": {"condition": {"test": "abs(datum.value*10 - round(datum.value*10)) < 0.000001", "value": -12}, "value": -6}, "labelPadding": 20, "labelOverlap": false, "labelFlush": false, "titlePadding": 13}}
              }
            },
            {
              "data": {"name": "volc"},
              "mark": {"type": "line", "color": "#1a8cd2", "strokeWidth": 1.4},
              "encoding": {
                "y": {"field": "value", "type": "quantitative", "scale": {"domain": [-0.25, 0.25], "nice": false, "zero": false},
                  "axis": {"orient": "right", "title": null, "labels": false, "tickCount": 50, "tickSize": {"condition": {"test": "abs(datum.value*10 - round(datum.value*10)) < 0.000001", "value": -12}, "value": -6}}}
              }
            },
            {
              "data": {"name": "volcFut"},
              "mark": {"type": "line", "color": "#1a8cd2", "strokeWidth": 1.5, "strokeDash": [9, 7], "interpolate": "monotone"},
              "encoding": {
                "y": {"field": "value", "type": "quantitative", "scale": {"domain": [-0.25, 0.25], "nice": false, "zero": false}, "axis": null}
              }
            },
            {
              "data": {"name": "ensoFut"},
              "mark": {"type": "line", "color": "#6650a8", "strokeWidth": 1.5, "strokeDash": [9, 7]},
              "encoding": {
                "y": {"field": "value", "type": "quantitative", "scale": {"domain": [-0.25, 0.25], "nice": false, "zero": false}, "axis": null}
              }
            },
            {
              "data": {"values": [{"year": 2013.04, "value": 0.0707, "text": "ENSO"}]},
              "mark": {"type": "text", "align": "left", "baseline": "alphabetic", "fontSize": 20, "color": "#6650a8"},
              "encoding": {
                "y": {"field": "value", "type": "quantitative", "scale": {"domain": [-0.25, 0.25], "nice": false, "zero": false}, "axis": null},
                "text": {"field": "text"}
              }
            },
            {
              "data": {"values": [{"year": 1994.09, "value": -0.258, "text": "Volcanic aerosols"}]},
              "mark": {"type": "text", "align": "left", "baseline": "alphabetic", "fontSize": 20, "color": "#1a8cd2"},
              "encoding": {
                "y": {"field": "value", "type": "quantitative", "scale": {"domain": [-0.25, 0.25], "nice": false, "zero": false}, "axis": null},
                "text": {"field": "text"}
              }
            },
            {
              "data": {"values": [{"year": 1984.70, "value": 0.3007, "text": "Surface temperature components"}]},
              "mark": {"type": "text", "align": "left", "baseline": "alphabetic", "fontSize": 20, "color": "#222222"},
              "encoding": {
                "y": {"field": "value", "type": "quantitative", "scale": {"domain": [-0.25, 0.25], "nice": false, "zero": false}, "axis": null},
                "text": {"field": "text"}
              }
            },
            {
              "data": {"values": [{"year": 1981.33, "value": 0.3007, "text": "(b)"}]},
              "mark": {"type": "text", "align": "left", "baseline": "alphabetic", "fontSize": 20, "fontWeight": "bold", "color": "#222222"},
              "encoding": {
                "y": {"field": "value", "type": "quantitative", "scale": {"domain": [-0.25, 0.25], "nice": false, "zero": false}, "axis": null},
                "text": {"field": "text"}
              }
            }
          ]
        },
        {
          "width": 628,
          "height": 210,
          "resolve": {"axis": {"y": "independent"}},
          "encoding": {
            "x": {"field": "year", "type": "quantitative", "scale": {"domain": [1980, 2030], "nice": false, "zero": false},
              "axis": {"orient": "bottom", "title": null, "tickCount": 50, "format": "d", "labelExpr": "abs(datum.value/10 - round(datum.value/10)) < 0.000001 ? datum.label : ''", "tickSize": {"condition": {"test": "abs(datum.value/10 - round(datum.value/10)) < 0.000001", "value": -12}, "value": -6}, "labelPadding": 15, "labelFlush": false, "labelOverlap": false}}
          },
          "layer": [
            {
              "data": {"name": "solar"},
              "mark": {"type": "line", "color": "#0da04a", "strokeWidth": 2},
              "encoding": {
                "y": {"field": "value", "type": "quantitative", "scale": {"domain": [-0.3, 0.6], "nice": false, "zero": false},
                  "axis": {"orient": "left", "title": "Anomaly ( C)", "tickCount": 18, "format": ".1f", "labelExpr": "abs(datum.value*5 - round(datum.value*5)) < 0.000001 ? datum.label : ''", "tickSize": {"condition": {"test": "abs(datum.value*5 - round(datum.value*5)) < 0.000001", "value": -12}, "value": -6}, "labelPadding": 20, "labelOverlap": false, "labelFlush": false, "titlePadding": 13, "titleY": 94}}
              }
            },
            {
              "data": {"name": "anthro"},
              "mark": {"type": "line", "color": "#ec3a8a", "strokeWidth": 2.2},
              "encoding": {
                "y": {"field": "value", "type": "quantitative", "scale": {"domain": [-0.3, 0.6], "nice": false, "zero": false},
                  "axis": {"orient": "right", "title": null, "labels": false, "tickCount": 18, "tickSize": {"condition": {"test": "abs(datum.value*5 - round(datum.value*5)) < 0.000001", "value": -12}, "value": -6}}}
              }
            },
            {
              "data": {"name": "solarFut"},
              "mark": {"type": "line", "color": "#0da04a", "strokeWidth": 1.5, "strokeDash": [10, 8], "interpolate": "monotone"},
              "encoding": {
                "y": {"field": "value", "type": "quantitative", "scale": {"domain": [-0.3, 0.6], "nice": false, "zero": false}, "axis": null}
              }
            },
            {
              "data": {"name": "anthroFut"},
              "mark": {"type": "line", "color": "#ec3a8a", "strokeWidth": 1.5, "strokeDash": [10, 8]},
              "encoding": {
                "y": {"field": "value", "type": "quantitative", "scale": {"domain": [-0.3, 0.6], "nice": false, "zero": false}, "axis": null}
              }
            },
            {
              "data": {"values": [{"year": 2014.9, "value": 0.244, "text": "Anthropogenic"}, {"year": 2014.9, "value": 0.148, "text": "influence"}]},
              "mark": {"type": "text", "align": "left", "baseline": "alphabetic", "fontSize": 20, "color": "#ec3a8a"},
              "encoding": {
                "y": {"field": "value", "type": "quantitative", "scale": {"domain": [-0.3, 0.6], "nice": false, "zero": false}, "axis": null},
                "text": {"field": "text"}
              }
            },
            {
              "data": {"values": [{"year": 1994.99, "value": -0.158, "text": "Solar irradiance"}]},
              "mark": {"type": "text", "align": "left", "baseline": "alphabetic", "fontSize": 20, "color": "#0da04a"},
              "encoding": {
                "y": {"field": "value", "type": "quantitative", "scale": {"domain": [-0.3, 0.6], "nice": false, "zero": false}, "axis": null},
                "text": {"field": "text"}
              }
            }
          ]
        }
      ]
    }
  ]
}
